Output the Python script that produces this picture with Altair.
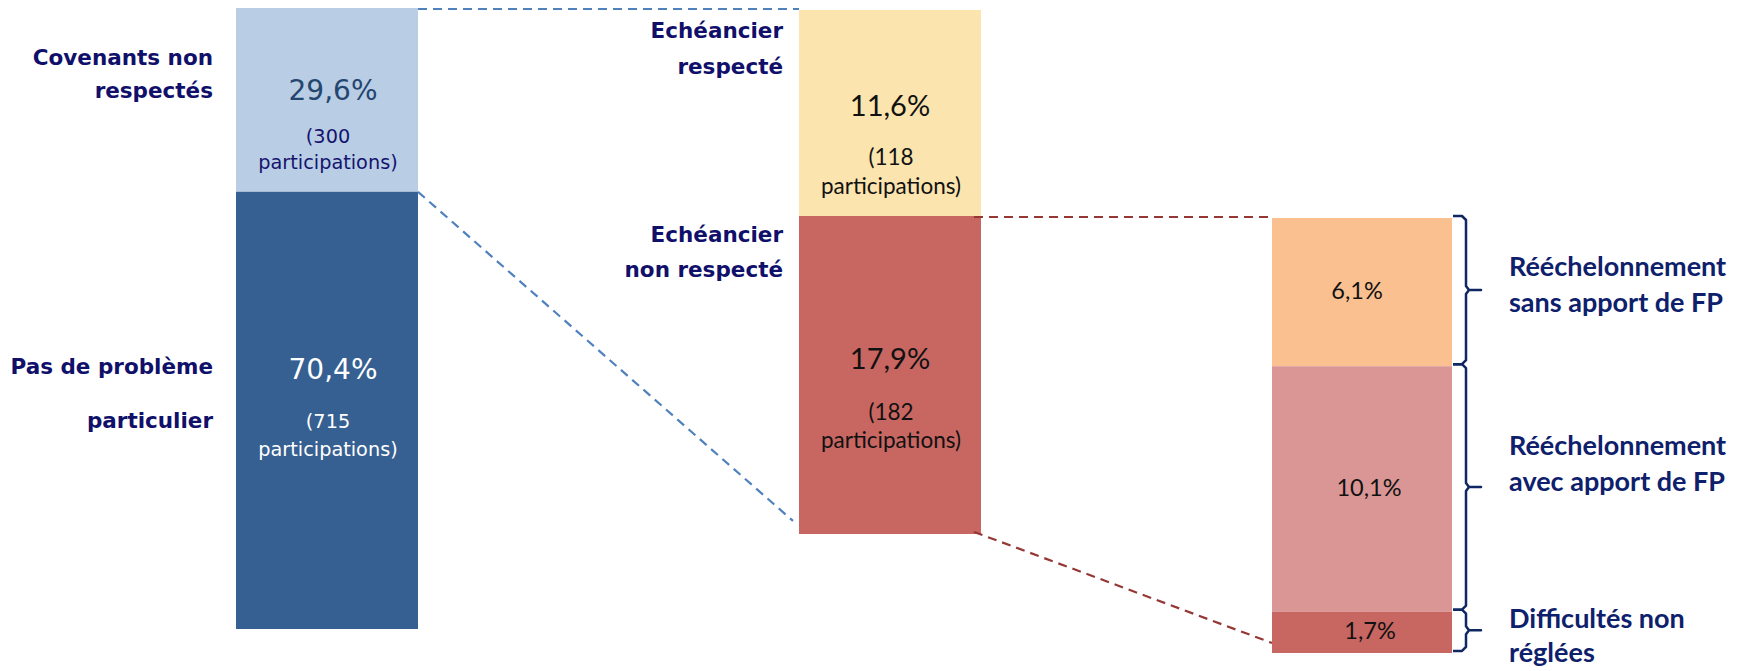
import altair as alt
import pandas as pd

# ---------------- data ----------------
col1_labels = ["Covenants non respectés", "Pas de problème particulier"]
col1_pct = [29.6, 70.4]
col1_n = [300, 715]

col2_labels = ["Echéancier respecté", "Echéancier non respecté"]
col2_pct = [11.6, 17.9]
col2_n = [118, 182]

col3_labels = ["Rééchelonnement sans apport de FP",
               "Rééchelonnement avec apport de FP",
               "Difficultés non réglées"]
col3_pct = [6.1, 10.1, 1.7]

# ---------------- layout (screen pixels) ----------------
W, H = 1730, 662
COLS = [
    dict(x0=236, x1=418, top=8, ppp=6.21),
    dict(x0=799, x1=981, top=10, ppp=17.76),
    dict(x0=1272, x1=1452, top=218, ppp=24.3),
]
bar_colors = ["#B9CDE5", "#376092", "#FBE4AE", "#C86662", "#FAC090", "#D99694", "#C86662"]
pct_colors = ["#24466F", "#FFFFFF", "#111111", "#111111", "#111111", "#111111", "#111111"]
cnt_colors = ["#14146E", "#FFFFFF", "#111111", "#111111"]
pct_dy = [-8, -39, -6, -15, 0, 0, 0]
cnt_dy1 = [45, 51, 51, 53]
cnt_dy2 = [26, 28, 29, 28]
pct_size = [28, 28, 29, 29, 23.5, 23.5, 23.5]
pct_xoff = [6, 6, 0, 0, -5, 7, 8]

segs = []
for ci, (labels, pcts) in enumerate([(col1_labels, col1_pct), (col2_labels, col2_pct), (col3_labels, col3_pct)]):
    c = COLS[ci]
    cum = 0.0
    for lab, p in zip(labels, pcts):
        y0 = c["top"] + cum * c["ppp"]
        cum += p
        y1 = c["top"] + cum * c["ppp"]
        segs.append(dict(col=ci, label=lab, pct=p, x0=c["x0"], x1=c["x1"], y0=y0, y1=y1,
                         xm=(c["x0"] + c["x1"]) / 2, ym=(y0 + y1) / 2))
seg = pd.DataFrame(segs)
seg["color"] = bar_colors
seg["pct_txt"] = seg["pct"].map(lambda v: f"{v:.1f}".replace(".", ",") + "%")
seg["pct_y"] = seg["ym"] + pd.Series(pct_dy)
seg["pct_col"] = pct_colors
seg["pct_size"] = pct_size
seg["pct_x"] = seg["xm"] + pd.Series(pct_xoff)

# count lines for columns 1 and 2
counts = col1_n + col2_n
cnt_rows = []
for i, n in enumerate(counts):
    base = seg.loc[i, "pct_y"]
    cnt_rows.append(dict(seg=i, txt=f"({n}", x=seg.loc[i, "xm"] + 1, y=base + cnt_dy1[i], c=cnt_colors[i], col=seg.loc[i, "col"]))
    cnt_rows.append(dict(seg=i, txt="participations)", x=seg.loc[i, "xm"] + 1, y=base + cnt_dy1[i] + cnt_dy2[i], c=cnt_colors[i], col=seg.loc[i, "col"]))
cnt = pd.DataFrame(cnt_rows)

# category labels
lab1 = pd.DataFrame(dict(txt=["Covenants non", "respectés", "Pas de problème", "particulier"],
                         x=[213] * 4, y=[59, 92, 368, 422]))
lab2 = pd.DataFrame(dict(txt=["Echéancier", "respecté", "Echéancier", "non respecté"],
                         x=[783] * 4, y=[32, 68, 236, 271]))
lab3 = pd.DataFrame(dict(txt=["Rééchelonnement", "sans apport de FP", "Rééchelonnement",
                              "avec apport de FP", "Difficultés non", "réglées"],
                         x=[1509] * 6, y=[268, 304, 447, 483, 620, 654]))

# connectors
c1, c2, c3 = COLS
s = seg
col2_bottom = s.loc[3, "y1"]
col3_bottom = s.loc[6, "y1"]
conn = pd.DataFrame([
    dict(k="b1", o=0, x=c1["x1"], y=s.loc[0, "y0"] + 1, c="#4F81BD"),
    dict(k="b1", o=1, x=c2["x0"], y=s.loc[0, "y0"] + 1, c="#4F81BD"),
    dict(k="b2", o=0, x=c1["x1"], y=s.loc[0, "y1"], c="#4F81BD"),
    dict(k="b2", o=1, x=c2["x0"] - 6, y=col2_bottom - 13, c="#4F81BD"),
    dict(k="r1", o=0, x=c2["x1"] - 7, y=s.loc[2, "y1"] + 1, c="#953735"),
    dict(k="r1", o=1, x=c3["x0"], y=s.loc[2, "y1"] + 1, c="#953735"),
    dict(k="r2", o=0, x=c2["x1"] - 7, y=col2_bottom - 2, c="#953735"),
    dict(k="r2", o=1, x=c3["x0"], y=col3_bottom - 10, c="#953735"),
])

# braces for column 3
br = []
bx0, bxv, bxt = c3["x1"] + 1, c3["x1"] + 14, c3["x1"] + 29
for i in range(4, 7):
    t, b = s.loc[i, "y0"] - 2, s.loc[i, "y1"] - 2
    m = (t + b) / 2
    pts = [(bx0, t), (bxv - 4, t), (bxv, t + 4), (bxv, m - 4), (bxv + 3, m), (bxt, m),
           (bxv + 3, m), (bxv, m + 4), (bxv, b - 4), (bxv - 4, b), (bx0, b)]
    for o, (px, py) in enumerate(pts):
        br.append(dict(k=f"br{i}", o=o, x=px, y=py))
brace = pd.DataFrame(br)

# ---------------- chart ----------------
xs = alt.Scale(domain=[8, 8 + W])
ys = alt.Scale(domain=[8, 8 + H], reverse=True)
X = lambda f: alt.X(f, type="quantitative", scale=xs, axis=None)
Y = lambda f: alt.Y(f, type="quantitative", scale=ys, axis=None)

bars = alt.Chart(seg).mark_rect().encode(
    x=X("x0"), x2="x1", y=Y("y0"), y2="y1",
    color=alt.Color("color:N", scale=None),
)

conn_layer = alt.Chart(conn).mark_line(strokeDash=[9, 6], strokeWidth=2.2).encode(
    x=X("x"), y=Y("y"), detail="k:N", order="o:Q", color=alt.Color("c:N", scale=None),
)

brace_layer = alt.Chart(brace).mark_line(strokeWidth=2.5, color="#0F2762", strokeJoin="round").encode(
    x=X("x"), y=Y("y"), detail="k:N", order="o:Q",
)

pct12 = alt.Chart(seg[seg.col == 0]).mark_text(font="DejaVu Sans", baseline="middle", align="center").encode(
    x=X("pct_x"), y=Y("pct_y"), text="pct_txt:N",
    color=alt.Color("pct_col:N", scale=None), size=alt.Size("pct_size:Q", scale=None),
)
pct23 = alt.Chart(seg[seg.col > 0]).mark_text(font="Lato", baseline="middle", align="center").encode(
    x=X("pct_x"), y=Y("pct_y"), text="pct_txt:N",
    color=alt.Color("pct_col:N", scale=None), size=alt.Size("pct_size:Q", scale=None),
)
cnt1 = alt.Chart(cnt[cnt.col == 0]).mark_text(font="DejaVu Sans", fontSize=19.3, baseline="middle", align="center").encode(
    x=X("x"), y=Y("y"), text="txt:N", color=alt.Color("c:N", scale=None),
)
cnt2 = alt.Chart(cnt[cnt.col == 1]).mark_text(font="Lato", fontSize=22.5, baseline="middle", align="center").encode(
    x=X("x"), y=Y("y"), text="txt:N", color=alt.Color("c:N", scale=None),
)
l1 = alt.Chart(lab1).mark_text(font="DejaVu Sans", fontWeight="bold", fontSize=21.5, color="#10106B",
                               baseline="middle", align="right").encode(x=X("x"), y=Y("y"), text="txt:N")
l2 = alt.Chart(lab2).mark_text(font="DejaVu Sans", fontWeight="bold", fontSize=21.5, color="#10106B",
                               baseline="middle", align="right").encode(x=X("x"), y=Y("y"), text="txt:N")
l3 = alt.Chart(lab3).mark_text(font="Lato", fontWeight="bold", fontSize=27, color="#0E206C",
                               baseline="middle", align="left").encode(x=X("x"), y=Y("y"), text="txt:N")

chart = alt.layer(bars, conn_layer, brace_layer, pct12, pct23, cnt1, cnt2, l1, l2, l3).properties(
    width=W, height=H, padding=0, autosize=alt.AutoSizeParams(type="none"),
).configure_view(stroke=None)

chart.save("out.html", embed_options={"renderer": "svg", "actions": False})
